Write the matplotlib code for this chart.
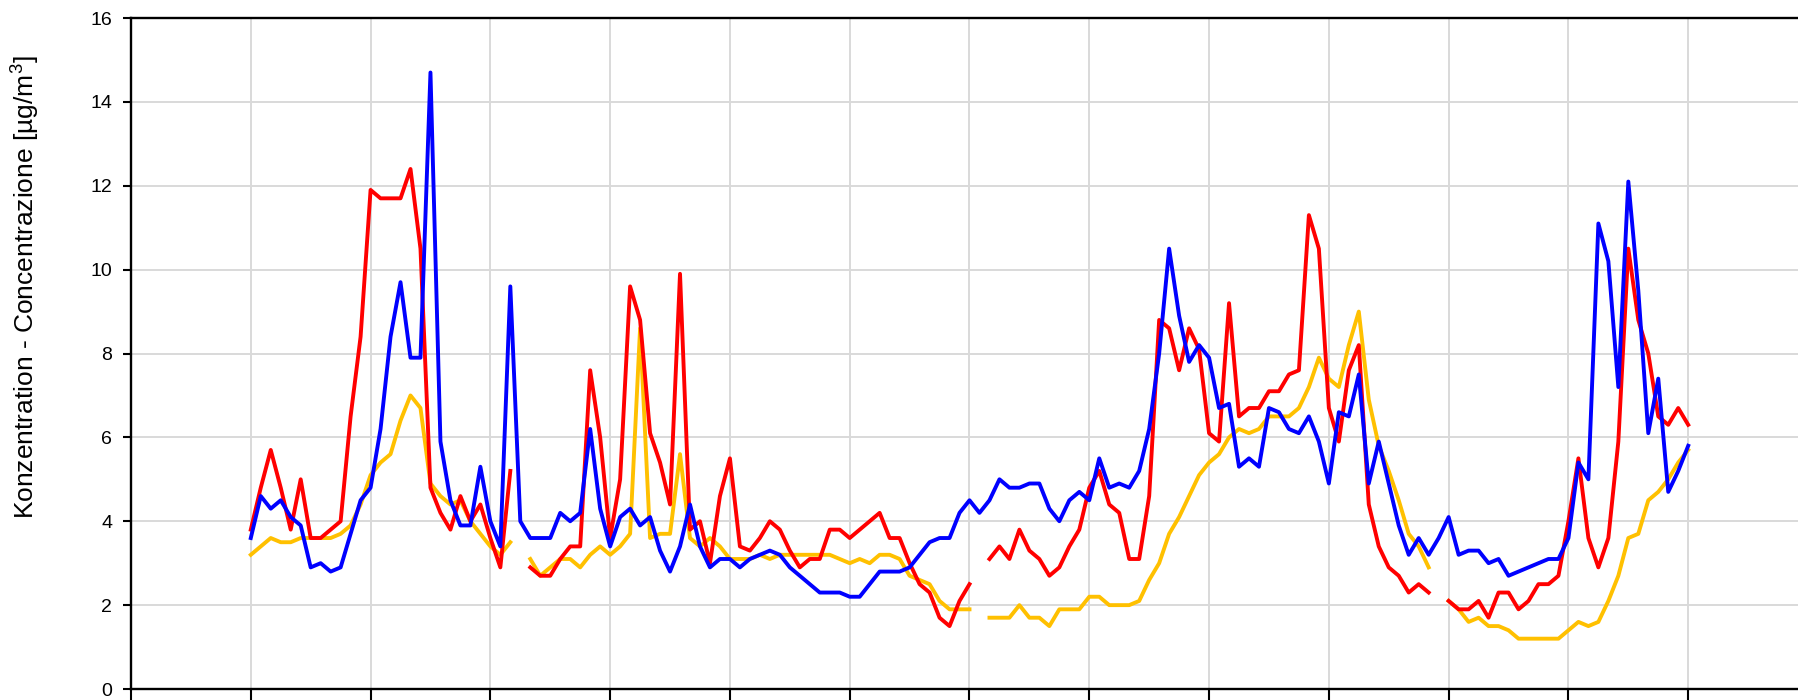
import numpy as np
import matplotlib
matplotlib.use("Agg")
import matplotlib.pyplot as plt
from matplotlib import font_manager

nan = np.nan

# values, one point per step, gaps as nan
red = [3.8, 4.8, 5.7, 4.8, 3.8, 5.0, 3.6, 3.6, 3.8, 4.0, 6.5, 8.4,
       11.9, 11.7, 11.7, 11.7, 12.4, 10.5, 4.8, 4.2, 3.8, 4.6, 4.0, 4.4,
       3.6, 2.9, 5.2, nan, 2.9, 2.7, 2.7, 3.1, 3.4, 3.4, 7.6, 6.0,
       3.6, 5.0, 9.6, 8.8, 6.1, 5.4, 4.4, 9.9, 3.8, 4.0, 3.0, 4.6,
       5.5, 3.4, 3.3, 3.6, 4.0, 3.8, 3.3, 2.9, 3.1, 3.1, 3.8, 3.8,
       3.6, 3.8, 4.0, 4.2, 3.6, 3.6, 3.0, 2.5, 2.3, 1.7, 1.5, 2.1,
       2.5, nan, 3.1, 3.4, 3.1, 3.8, 3.3, 3.1, 2.7, 2.9, 3.4, 3.8,
       4.8, 5.2, 4.4, 4.2, 3.1, 3.1, 4.6, 8.8, 8.6, 7.6, 8.6, 8.1,
       6.1, 5.9, 9.2, 6.5, 6.7, 6.7, 7.1, 7.1, 7.5, 7.6, 11.3, 10.5,
       6.7, 5.9, 7.6, 8.2, 4.4, 3.4, 2.9, 2.7, 2.3, 2.5, 2.3, nan,
       2.1, 1.9, 1.9, 2.1, 1.7, 2.3, 2.3, 1.9, 2.1, 2.5, 2.5, 2.7,
       4.0, 5.5, 3.6, 2.9, 3.6, 5.9, 10.5, 8.8, 8.0, 6.5, 6.3, 6.7, 6.3]

blue = [3.6, 4.6, 4.3, 4.5, 4.1, 3.9, 2.9, 3.0, 2.8, 2.9, 3.7, 4.5,
        4.8, 6.2, 8.4, 9.7, 7.9, 7.9, 14.7, 5.9, 4.5, 3.9, 3.9, 5.3,
        4.0, 3.4, 9.6, 4.0, 3.6, 3.6, 3.6, 4.2, 4.0, 4.2, 6.2, 4.3,
        3.4, 4.1, 4.3, 3.9, 4.1, 3.3, 2.8, 3.4, 4.4, 3.4, 2.9, 3.1,
        3.1, 2.9, 3.1, 3.2, 3.3, 3.2, 2.9, 2.7, 2.5, 2.3, 2.3, 2.3,
        2.2, 2.2, 2.5, 2.8, 2.8, 2.8, 2.9, 3.2, 3.5, 3.6, 3.6, 4.2,
        4.5, 4.2, 4.5, 5.0, 4.8, 4.8, 4.9, 4.9, 4.3, 4.0, 4.5, 4.7,
        4.5, 5.5, 4.8, 4.9, 4.8, 5.2, 6.2, 8.0, 10.5, 8.9, 7.8, 8.2,
        7.9, 6.7, 6.8, 5.3, 5.5, 5.3, 6.7, 6.6, 6.2, 6.1, 6.5, 5.9,
        4.9, 6.6, 6.5, 7.5, 4.9, 5.9, 4.9, 3.9, 3.2, 3.6, 3.2, 3.6,
        4.1, 3.2, 3.3, 3.3, 3.0, 3.1, 2.7, 2.8, 2.9, 3.0, 3.1, 3.1,
        3.6, 5.4, 5.0, 11.1, 10.2, 7.2, 12.1, 9.5, 6.1, 7.4, 4.7, 5.2, 5.8]

orange = [3.2, 3.4, 3.6, 3.5, 3.5, 3.6, 3.6, 3.6, 3.6, 3.7, 3.9, 4.4,
          5.1, 5.4, 5.6, 6.4, 7.0, 6.7, 4.9, 4.6, 4.4, 4.5, 4.0, 3.7,
          3.4, 3.2, 3.5, nan, 3.1, 2.7, 2.9, 3.1, 3.1, 2.9, 3.2, 3.4,
          3.2, 3.4, 3.7, 8.6, 3.6, 3.7, 3.7, 5.6, 3.6, 3.4, 3.6, 3.4,
          3.1, 3.1, 3.1, 3.2, 3.1, 3.2, 3.2, 3.2, 3.2, 3.2, 3.2, 3.1,
          3.0, 3.1, 3.0, 3.2, 3.2, 3.1, 2.7, 2.6, 2.5, 2.1, 1.9, 1.9,
          1.9, nan, 1.7, 1.7, 1.7, 2.0, 1.7, 1.7, 1.5, 1.9, 1.9, 1.9,
          2.2, 2.2, 2.0, 2.0, 2.0, 2.1, 2.6, 3.0, 3.7, 4.1, 4.6, 5.1,
          5.4, 5.6, 6.0, 6.2, 6.1, 6.2, 6.5, 6.5, 6.5, 6.7, 7.2, 7.9,
          7.4, 7.2, 8.2, 9.0, 6.9, 5.8, 5.2, 4.5, 3.7, 3.4, 2.9, nan,
          2.1, 1.9, 1.6, 1.7, 1.5, 1.5, 1.4, 1.2, 1.2, 1.2, 1.2, 1.2,
          1.4, 1.6, 1.5, 1.6, 2.1, 2.7, 3.6, 3.7, 4.5, 4.7, 5.0, 5.4, 5.7]

y_ticks = [0, 2, 4, 6, 8, 10, 12, 14, 16]
ylabel = "Konzentration - Concentrazione [µg/m$^{\\mathrm{3}}$]"

# pick fonts that exist
names = {f.name for f in font_manager.fontManager.ttflist}
label_font = "Liberation Sans Narrow" if "Liberation Sans Narrow" in names else "Liberation Sans"
plt.rcParams["font.family"] = ["Liberation Sans", "DejaVu Sans"]
plt.rcParams["mathtext.fontset"] = "custom"
plt.rcParams["mathtext.rm"] = label_font

x = np.arange(len(red)) + 12  # first point sits on the first gridline

fig = plt.figure(figsize=(17.98, 7.0), dpi=100)
# axes runs past the right edge of the picture, like the original crop
ax = fig.add_axes([131 / 1798, 11 / 700, 1677 / 1798, 671 / 700])

ax.plot(x, orange, color="#FFC000", lw=2.8, zorder=3)
ax.plot(x, red, color="#FF0000", lw=2.8, zorder=4)
ax.plot(x, blue, color="#0000FF", lw=2.8, zorder=5)

ax.set_xlim(0, 168)
ax.set_ylim(0, 16)
ax.set_xticks(np.arange(0, 169, 12))
ax.set_xticklabels([])
ax.set_yticks(y_ticks)
ax.grid(True, color="#d9d9d9", lw=1.4, zorder=0)
ax.set_axisbelow(True)

for s in ["left", "top", "bottom"]:
    ax.spines[s].set_linewidth(1.7)
ax.spines["right"].set_visible(False)

ax.tick_params(axis="y", direction="out", length=5.5, width=1.5, pad=8, labelsize=14)
ax.tick_params(axis="x", direction="out", length=9, width=1.5)

fig.text(25 / 1798, 1 - 287 / 700, ylabel, rotation=90, ha="center", va="center",
         fontsize=19, family=label_font)

fig.savefig("out.png", dpi=100)
